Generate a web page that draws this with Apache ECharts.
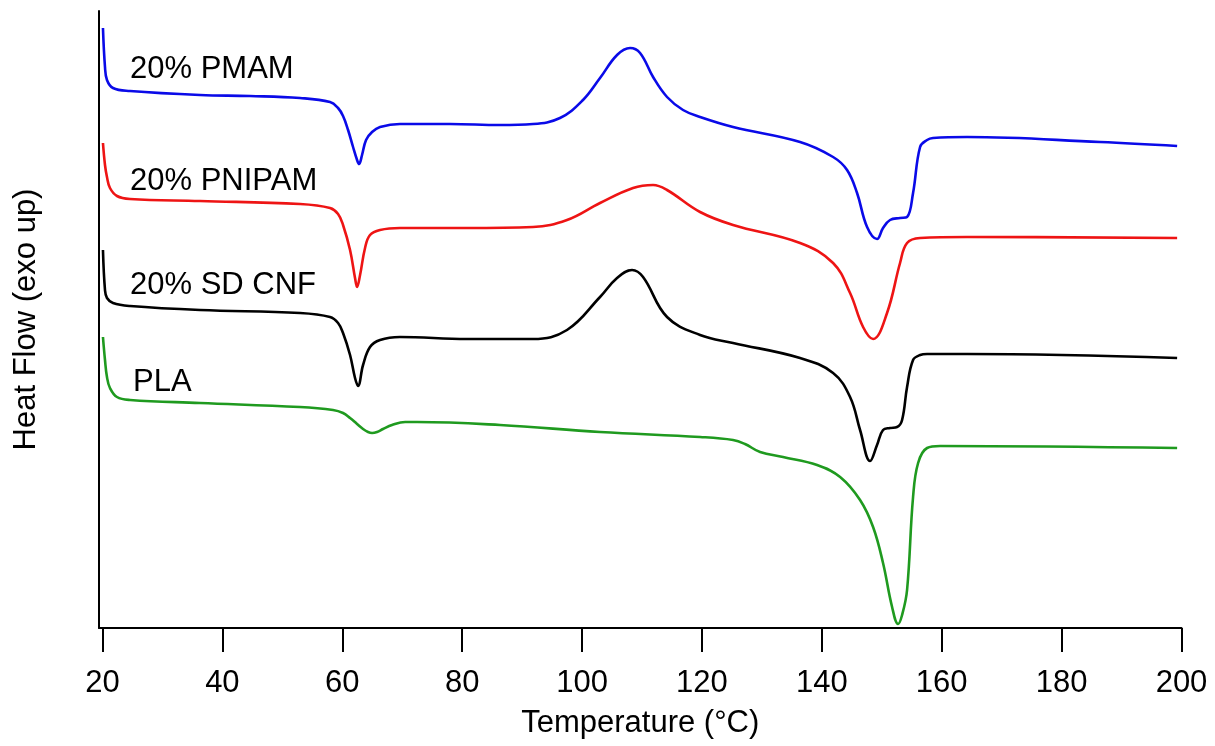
<!DOCTYPE html>
<html>
<head>
<meta charset="utf-8">
<script src="https://cdn.jsdelivr.net/npm/echarts@6/dist/echarts.min.js"></script>
<style>
html,body{margin:0;padding:0;background:#fff;}
#chart{width:1215px;height:746px;}
</style>
</head>
<body>
<div id="chart"></div>
<script>
// ---- data (temperature in °C, heat flow in arbitrary units, exo up) ----
const xTicks = [20, 40, 60, 80, 100, 120, 140, 160, 180, 200];

const pmamT = [20.08,20.42,20.75,21.75,24.59,36.27,44.61,52.95,57.96,59.30,60.13,60.97,61.80,62.47,62.80,63.30,63.97,64.97,66.30,69.63,77.97,86.32,91.82,96.32,100.16,103.0,105.84,108.01,109.68,111.85,114.18,116.85,119.69,125.19,136.37,141.88,144.21,145.88,147.55,149.21,150.21,151.38,153.05,154.22,155.22,156.39,157.56,158.56,164.23,186.42,199.27];
const pmamV = [60.0,56.1,54.8,54.0,53.7,53.3,53.2,53.0,52.6,52.0,51.2,49.8,48.1,46.8,46.4,47.3,48.8,49.6,50.1,50.4,50.4,50.3,50.4,51.0,52.8,55.0,57.3,58.0,57.5,55.1,53.1,51.8,51.1,50.1,48.6,47.1,45.8,43.5,40.1,38.9,40.0,40.8,41.0,41.1,43.5,48.1,48.8,49.0,49.1,48.6,48.2];

const pnipamT = [20.08,20.42,20.75,21.25,22.42,24.59,36.27,52.95,57.96,59.30,60.13,61.30,62.13,62.47,62.97,63.80,64.63,66.30,69.63,80.81,91.82,97.49,103.0,108.51,111.85,114.18,119.69,125.19,136.37,141.88,144.71,146.88,148.55,150.88,153.05,154.22,156.39,164.23,199.27];
const pnipamV = [48.5,46.3,45.1,44.0,43.2,42.9,42.7,42.4,42.0,41.4,40.3,37.8,35.0,34.1,35.3,38.0,39.3,39.8,40.0,40.0,40.1,40.8,42.5,44.0,44.3,43.8,41.6,40.3,38.5,36.5,33.5,30.1,28.9,31.5,36.5,38.5,39.0,39.1,39.0];

const cnfT = [20.08,20.42,20.75,21.75,24.59,36.27,52.95,57.96,59.30,60.13,61.30,62.13,62.63,63.47,64.63,66.30,69.63,80.81,91.82,97.49,103.0,105.84,108.34,110.18,114.18,119.69,125.19,136.37,141.88,144.71,146.38,148.05,149.21,150.21,151.38,152.55,153.39,154.22,155.22,156.39,157.56,164.23,199.27];
const cnfV = [37.8,33.8,33.0,32.5,32.2,31.8,31.5,31.1,30.5,29.5,27.3,25.0,24.2,26.3,28.1,28.8,29.1,28.9,28.9,29.8,33.1,35.0,35.8,35.1,31.1,29.3,28.5,27.0,25.5,23.1,19.8,16.7,18.3,19.8,20.0,20.1,20.8,24.1,26.8,27.3,27.4,27.4,27.0];

const plaT = [20.08,20.42,20.75,21.25,22.42,24.59,36.27,52.95,58.46,60.13,61.30,62.47,63.47,64.30,64.97,65.80,66.80,68.30,70.50,72.47,86.32,103.0,119.69,125.19,127.19,129.70,133.53,139.21,143.05,146.38,148.55,150.21,151.72,152.72,153.39,154.22,155.22,156.06,157.56,159.73,199.27];
const plaV = [29.1,26.8,25.1,24.0,23.1,22.8,22.5,22.1,21.8,21.5,21.0,20.4,19.9,19.6,19.5,19.6,19.9,20.3,20.6,20.6,20.3,19.6,19.1,18.8,18.4,17.6,17.1,16.3,15.1,12.8,10.1,6.5,2.1,0.4,1.3,3.8,13.1,16.5,18.0,18.2,18.0];

const seriesNames = ['20% PMAM', '20% PNIPAM', '20% SD CNF', 'PLA'];
const seriesColors = ['#0a0ae8', '#ee1414', '#000000', '#1f9a1f'];
// label anchor points [temperature, heat flow]
const labelAnchors = [[24.59, 55.9], [24.59, 44.7], [24.59, 34.3], [25.09, 24.6]];

const FONT = '"Liberation Sans", Arial, Helvetica, sans-serif';
const zip = (a, b) => a.map((t, i) => [t, b[i]]);
const allData = [zip(pmamT, pmamV), zip(pnipamT, pnipamV), zip(cnfT, cnfV), zip(plaT, plaV)];

const chart = echarts.init(document.getElementById('chart'), null, {renderer: 'canvas'});
const option = {
  animation: false,
  backgroundColor: '#ffffff',
  grid: {left: 99, right: 33.5, top: 11, bottom: 118, containLabel: false},
  xAxis: {
    type: 'value',
    min: 19.42,
    max: 200,
    name: 'Temperature (°C)',
    nameLocation: 'middle',
    nameGap: 80,
    nameTextStyle: {fontSize: 31, color: '#000', fontFamily: FONT},
    axisLine: {show: true, onZero: false, lineStyle: {color: '#000', width: 2}},
    axisTick: {show: true, inside: false, length: 24, customValues: xTicks, lineStyle: {color: '#000', width: 2}},
    axisLabel: {show: true, margin: 40, fontSize: 31, color: '#000', fontFamily: FONT, customValues: xTicks},
    splitLine: {show: false}
  },
  yAxis: {
    type: 'value',
    min: 0,
    max: 61.7,
    name: 'Heat Flow (exo up)',
    nameLocation: 'middle',
    nameRotate: 90,
    nameGap: 57,
    nameTextStyle: {fontSize: 31, color: '#000', fontFamily: FONT},
    axisLine: {show: true, lineStyle: {color: '#000', width: 2}},
    axisTick: {show: false},
    axisLabel: {show: false},
    splitLine: {show: false}
  },
  series: allData.map((d, i) => ({
    name: seriesNames[i],
    type: 'line',
    data: d,
    showSymbol: false,
    smooth: 0.4,
    clip: false,
    lineStyle: {color: seriesColors[i], width: 2.6},
    itemStyle: {color: seriesColors[i]},
    markPoint: {
      symbol: 'circle',
      symbolSize: 0,
      silent: true,
      data: [{coord: labelAnchors[i], value: seriesNames[i]}],
      label: {
        show: true,
        position: 'right',
        distance: 0,
        formatter: seriesNames[i],
        fontSize: 31,
        color: '#000',
        fontFamily: FONT
      }
    }
  }))
};
chart.setOption(option);
</script>
</body>
</html>
